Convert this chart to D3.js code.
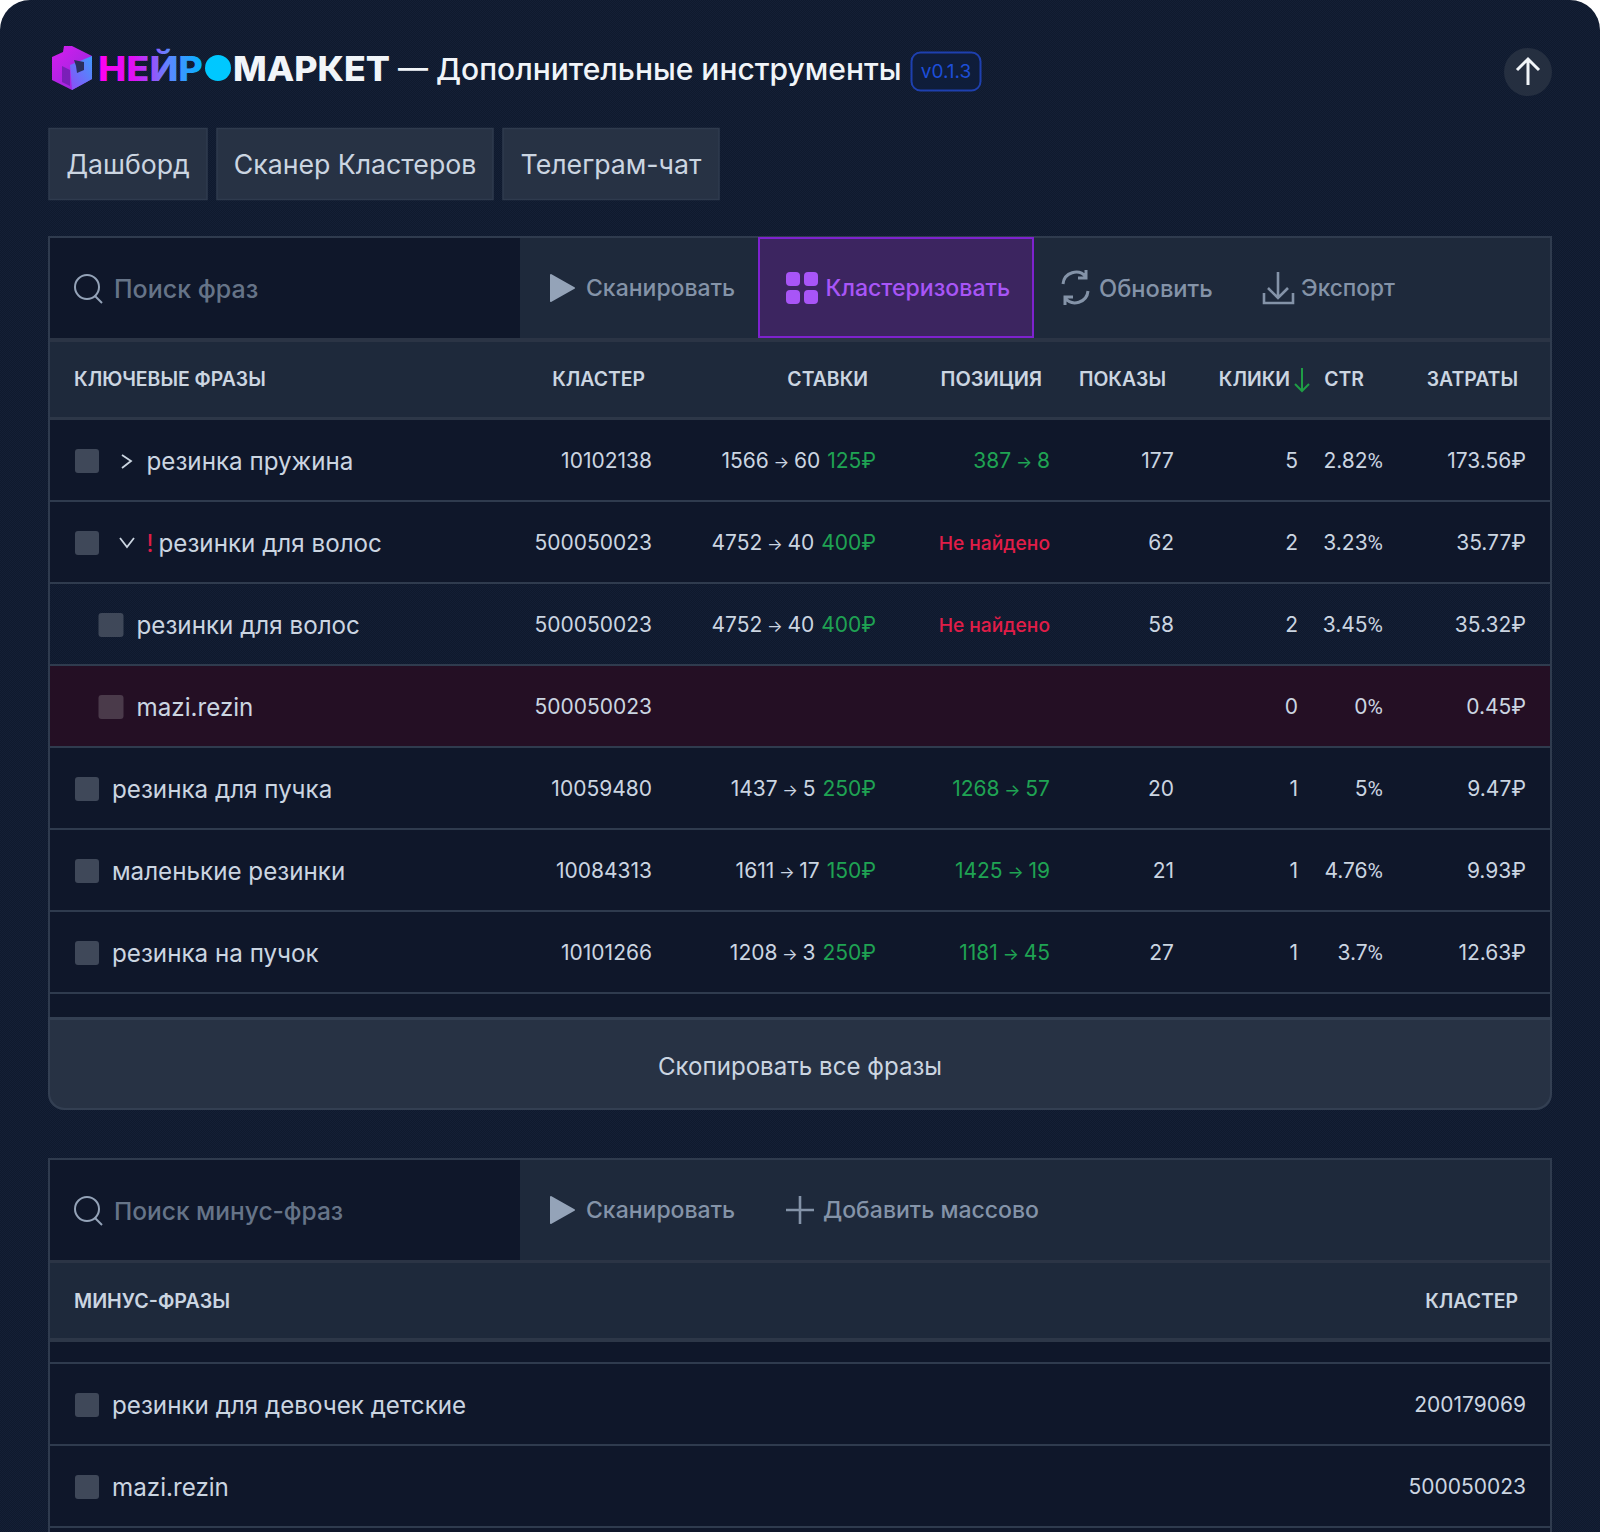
<!DOCTYPE html>
<html>
<head>
<meta charset="utf-8">
<script src="https://cdn.jsdelivr.net/npm/d3@7"></script>
<style>
html, body { margin: 0; padding: 0; background: #fff; overflow: hidden; }
svg { display: block; }
text { font-family: Inter, "Noto Sans", sans-serif; }
</style>
</head>
<body>
<div id="app"></div>
<script>
// table 1
var phrases = ["резинка пружина", "резинки для волос", "резинки для волос", "mazi.rezin", "резинка для пучка", "маленькие резинки", "резинка на пучок"];
var rowKinds = ["collapsed", "expanded", "child", "excluded", "plain", "plain", "plain"];
var clusters = ["10102138", "500050023", "500050023", "500050023", "10059480", "10084313", "10101266"];
var bidFrom = [1566, 4752, 4752, null, 1437, 1611, 1208];
var bidTo = [60, 40, 40, null, 5, 17, 3];
var bidPrice = [125, 400, 400, null, 250, 150, 250];
var posFrom = [387, null, null, null, 1268, 1425, 1181];
var posTo = [8, null, null, null, 57, 19, 45];
var posNotFound = [false, true, true, false, false, false, false];
var shows = [177, 62, 58, null, 20, 21, 27];
var clicks = [5, 2, 2, 0, 1, 1, 1];
var ctr = [2.82, 3.23, 3.45, 0, 5, 4.76, 3.7];
var costs = ["173.56₽", "35.77₽", "35.32₽", "0.45₽", "9.47₽", "9.93₽", "12.63₽"];

// table 2
var minusPhrases = ["резинки для девочек детские", "mazi.rezin"];
var minusClusters = ["200179069", "500050023"];

// header + buttons
var tabs = ["Дашборд", "Сканер Кластеров", "Телеграм-чат"];
var columnKeys = ["cluster", "bids", "position", "shows", "clicks", "ctr", "cost"];
var columnTitles = ["КЛАСТЕР", "СТАВКИ", "ПОЗИЦИЯ", "ПОКАЗЫ", "КЛИКИ", "CTR", "ЗАТРАТЫ"];

var width = 1600, height = 1532;
var TEXT = "#cbd5e1", GREEN = "#1fa353", RED = "#e11d48", MUTED = "#8493a8", LINE = "#2f3b4e";
var DARK = "#0f172a", PANEL = "#1e293b";

// right edges of the values and of the titles
var valueX = d3.scaleOrdinal(columnKeys, [652, 876, 1050, 1174, 1298, 1383, 1526]);
var titleX = d3.scaleOrdinal(columnKeys, [645, 868, 1042, 1166, 1290, 1364, 1518]);
var rowY = d3.scaleBand().domain(d3.range(phrases.length)).range([420, 994]);
var minusY = d3.scaleBand().domain(d3.range(minusPhrases.length)).range([1364, 1528]);

var svg = d3.select("#app").append("svg").attr("width", width).attr("height", height);
var defs = svg.append("defs");

function ditherPattern(id, a, b){
   var p = defs.append("pattern").attr("id", id).attr("width", 2).attr("height", 2).attr("patternUnits", "userSpaceOnUse");
   p.append("rect").attr("width", 2).attr("height", 2).attr("fill", a);
   p.append("rect").attr("width", 1).attr("height", 1).attr("fill", b);
   p.append("rect").attr("x", 1).attr("y", 1).attr("width", 1).attr("height", 1).attr("fill", b);
}
ditherPattern("bgDither", "#0f1a2d", "#141f36");
ditherPattern("childDither", "#0f192c", "#131e35");

function gradient(id, stops, x1, y1, x2, y2){
   var g = defs.append("linearGradient").attr("id", id)
      .attr("x1", x1).attr("y1", y1).attr("x2", x2).attr("y2", y2);
   stops.forEach(function(s, i){
      g.append("stop").attr("offset", i / (stops.length - 1)).attr("stop-color", s);
   });
}
gradient("logoText", ["#ff00f0", "#e010f5", "#5f86ff", "#00b4ff"], 0, 0, 1, 0);
gradient("cubeLeft", ["#d81cf0", "#8b2bd8"], 0, 0, 1, 1);
gradient("cubeRight", ["#8e4cf5", "#3f9bff"], 0, 1, 1, 0);

function rect(x, y, w, h, fill, rx){
   return svg.append("rect").attr("x", x).attr("y", y).attr("width", w).attr("height", h)
      .attr("fill", fill).attr("rx", rx || 0);
}
function label(x, y, txt, size, color, weight, anchor){
   return svg.append("text").attr("x", x).attr("y", y + size * 0.36)
      .attr("font-size", size).attr("fill", color)
      .attr("font-weight", weight || 400)
      .attr("text-anchor", anchor || "start")
      .text(txt);
}

// page
rect(0, 0, width, height + 60, "url(#bgDither)", 30);

// logo
var cube = svg.append("g");
cube.append("path").attr("d", "M52 57 L63 52 L64 46 L72 46 L92 56 L92 79 L72 90 L52 80 Z").attr("fill", "url(#cubeLeft)");
cube.append("path").attr("d", "M70 65 L92 56 L92 79 L72 90 Z").attr("fill", "url(#cubeRight)");
cube.append("path").attr("d", "M74 60 L84 62 L84 70 L77 73 L76 66 Z").attr("fill", "#2a2f5e");
cube.append("path").attr("d", "M62 66 L70 70 L70 86 L62 82 Z").attr("fill", "#7a1fb8");
svg.append("text").attr("x", 98).attr("y", 81).attr("font-size", 34).attr("font-weight", 800)
   .attr("fill", "url(#logoText)").attr("textLength", 105).attr("lengthAdjust", "spacingAndGlyphs").text("НЕЙР");
svg.append("circle").attr("cx", 218).attr("cy", 68).attr("r", 13).attr("fill", "#00c8ff");
svg.append("text").attr("x", 233).attr("y", 81).attr("font-size", 34).attr("font-weight", 800)
   .attr("fill", "#f1f5f9").attr("textLength", 157).attr("lengthAdjust", "spacingAndGlyphs").text("МАРКЕТ");

// title
label(398, 69, "— Дополнительные инструменты", 30, "#f1f5f9", 500);

// version
svg.append("rect").attr("x", 911.5).attr("y", 52.5).attr("width", 69).attr("height", 38).attr("rx", 9)
   .attr("fill", "#0f1d3a").attr("stroke", "#1e40af").attr("stroke-width", 2);
label(946, 71, "v0.1.3", 19, "#1d4ed8", 400, "middle");

// up button
svg.append("circle").attr("cx", 1528).attr("cy", 72).attr("r", 24).attr("fill", "#252f40");
svg.append("path").attr("d", "M1528 85 V59 M1517 70 L1528 59 L1539 70")
   .attr("fill", "none").attr("stroke", "#f1f5f9").attr("stroke-width", 3);

// tabs
var tabBox = [[48.5, 159], [216.5, 277], [502.5, 217]];
tabs.forEach(function(t, i){
   svg.append("rect").attr("x", tabBox[i][0] + 0.5).attr("y", 128.5).attr("width", tabBox[i][1] - 1).attr("height", 71)
      .attr("fill", "#273244").attr("stroke", "#2f3b4e").attr("stroke-width", 1.5);
   label(tabBox[i][0] + tabBox[i][1] / 2, 164, t, 26.7, TEXT, 400, "middle");
});

function searchIcon(y){
   svg.append("circle").attr("cx", 87).attr("cy", y).attr("r", 12)
      .attr("fill", "none").attr("stroke", "#94a3b8").attr("stroke-width", 2);
   svg.append("line").attr("x1", 95).attr("y1", y + 9).attr("x2", 102).attr("y2", y + 16)
      .attr("stroke", "#94a3b8").attr("stroke-width", 2);
}
function playIcon(y){
   svg.append("path").attr("d", "M551 " + (y - 13) + " L574 " + y + " L551 " + (y + 13) + " Z")
      .attr("fill", "#94a3b8").attr("stroke", "#94a3b8").attr("stroke-width", 2).attr("stroke-linejoin", "round");
}

// panel 1: toolbar
rect(48, 236, 1504, 790, LINE);
rect(50, 238, 1500, 100, PANEL);
rect(50, 238, 470, 100, DARK);
searchIcon(287);
label(114, 289, "Поиск фраз", 25, "#667488", 500);
playIcon(288);
label(586, 288, "Сканировать", 23, MUTED, 500);
svg.append("rect").attr("x", 759).attr("y", 238).attr("width", 274).attr("height", 99)
   .attr("fill", "#3c2560").attr("stroke", "#7e22ce").attr("stroke-width", 2);
[[786, 272], [804, 272], [786, 290], [804, 290]].forEach(function(p){
   rect(p[0], p[1], 14, 14, "#a855f7", 4);
});
label(825.5, 288, "Кластеризовать", 23.1, "#a855f7", 500);

// refresh icon
svg.append("path")
   .attr("d", "M1063 284 a13 13 0 0 1 23 -7 M1088 291 a13 13 0 0 1 -23 7 M1086 270 v8 h-8 M1065 305 v-8 h8")
   .attr("fill", "none").attr("stroke", MUTED).attr("stroke-width", 3);
label(1099, 288, "Обновить", 23.7, MUTED, 500);

// download icon
svg.append("path").attr("d", "M1278 272 V297 M1268 288 L1278 298 L1288 288 M1264 293 V303 H1293 V293")
   .attr("fill", "none").attr("stroke", MUTED).attr("stroke-width", 2.6);
label(1301, 288, "Экспорт", 22.7, MUTED, 500);

// panel 1: header
rect(50, 338, 1500, 4, "#2b3445");
rect(50, 342, 1500, 75, PANEL);
rect(50, 417, 1500, 3, "#2d3748");
label(74, 379, "КЛЮЧЕВЫЕ ФРАЗЫ", 19.4, TEXT, 600);
columnKeys.forEach(function(k, i){
   label(titleX(k), 379, columnTitles[i], k == "position" ? 20 : 19.4, TEXT, 600, "end");
});
svg.append("path").attr("d", "M1302 368 V391 M1295 384 L1302 391 L1309 384")
   .attr("fill", "none").attr("stroke", "#1f9d45").attr("stroke-width", 2);

// panel 1: rows
rect(50, 420, 1500, 597, DARK);

var rows = svg.append("g").selectAll("g")
   .data(phrases)
   .enter().append("g")
   .attr("transform", function(d, i){ return "translate(0," + rowY(i) + ")"; });

rows.append("rect").attr("x", 50).attr("width", 1500).attr("height", rowY.bandwidth() - 2)
   .attr("fill", function(d, i){
      if (rowKinds[i] == "child") return "url(#childDither)";
      if (rowKinds[i] == "excluded") return "#240f24";
      return DARK;
   });
rows.append("rect").attr("x", 50).attr("y", rowY.bandwidth() - 2).attr("width", 1500).attr("height", 2)
   .attr("fill", LINE);

rows.append("rect")
   .attr("x", function(d, i){ return (rowKinds[i] == "child" || rowKinds[i] == "excluded") ? 98.5 : 75; })
   .attr("y", 29).attr("width", function(d, i){ return (rowKinds[i] == "child" || rowKinds[i] == "excluded") ? 25 : 24; })
   .attr("height", 24).attr("rx", 3)
   .attr("fill", function(d, i){ return rowKinds[i] == "excluded" ? "#4a3a4a" : "#3f4859"; });

var labelX = { collapsed: 146.5, expanded: 158.5, child: 136.5, excluded: 136.5, plain: 112 };
var CY = 41;
rows.append("text")
   .attr("x", function(d, i){ return labelX[rowKinds[i]]; })
   .attr("y", CY + 9)
   .attr("font-size", 24.2).attr("fill", TEXT)
   .text(function(d){ return d; });

rows.filter(function(d, i){ return rowKinds[i] == "collapsed"; }).append("path")
   .attr("d", "M122 35 L131 41 L122 48").attr("fill", "none").attr("stroke", TEXT).attr("stroke-width", 1.8);
rows.filter(function(d, i){ return rowKinds[i] == "expanded"; }).append("path")
   .attr("d", "M120 36 L127 45 L134 36").attr("fill", "none").attr("stroke", TEXT).attr("stroke-width", 1.8);
rows.filter(function(d, i){ return rowKinds[i] == "expanded"; }).append("text")
   .attr("x", 150).attr("y", CY + 9).attr("font-size", 24).attr("fill", RED).attr("text-anchor", "middle").text("!");

var VALUE_Y = CY + 6.7;
function cell(key, fn, color){
   return rows.append("text")
      .attr("x", valueX(key)).attr("y", VALUE_Y)
      .attr("font-size", 21).attr("text-anchor", "end").attr("fill", color || TEXT)
      .text(fn);
}
// "a → b" with the small arrow of the original
function arrowText(t, a, b, arrowSize){
   t.append("tspan").text(a);
   t.append("tspan").attr("font-size", arrowSize).text(" → ");
   t.append("tspan").text(b);
}

cell("cluster", function(d, i){ return clusters[i]; });

rows.each(function(d, i){
   var g = d3.select(this);
   if (bidFrom[i] != null) {
      var t = g.append("text").attr("x", valueX("bids")).attr("y", VALUE_Y).attr("font-size", 21)
         .attr("text-anchor", "end").attr("fill", TEXT);
      arrowText(t, bidFrom[i], bidTo[i], 16.5);
      t.append("tspan").attr("dx", 7).attr("fill", GREEN).text(bidPrice[i] + "₽");
   }
   if (posNotFound[i]) {
      g.append("text").attr("x", valueX("position")).attr("y", VALUE_Y).attr("font-size", 19.2)
         .attr("font-weight", 500).attr("text-anchor", "end").attr("fill", RED).text("Не найдено");
   } else if (posFrom[i] != null) {
      var p = g.append("text").attr("x", valueX("position")).attr("y", VALUE_Y).attr("font-size", 21)
         .attr("text-anchor", "end").attr("fill", GREEN);
      arrowText(p, posFrom[i], posTo[i], 17);
   }
});

cell("shows", function(d, i){ return shows[i] == null ? "" : shows[i]; });
cell("clicks", function(d, i){ return clicks[i]; });
cell("ctr", function(d, i){ return ""; }).each(function(d, i){
   var t = d3.select(this);
   t.append("tspan").text(ctr[i]);
   // Inter's percent sign is wider than the one in the picture
   t.append("tspan").style("font-family", "Roboto").text("%");
});
cell("cost", function(d, i){ return costs[i]; });

// copy button
svg.append("path").attr("d", "M48 1017 H1552 V1094 a16 16 0 0 1 -16 16 H64 a16 16 0 0 1 -16 -16 Z").attr("fill", "#333f52");
svg.append("path").attr("d", "M50 1020 H1550 V1093 a15 15 0 0 1 -15 15 H65 a15 15 0 0 1 -15 -15 Z").attr("fill", "#273244");
label(800, 1066, "Скопировать все фразы", 24.1, TEXT, 400, "middle");

// panel 2: toolbar
rect(48, 1158, 1504, 400, LINE);
rect(50, 1160, 1500, 100, PANEL);
rect(50, 1160, 470, 100, DARK);
searchIcon(1209);
label(114, 1211, "Поиск минус-фраз", 24.5, "#667488", 500);
playIcon(1210);
label(586, 1210, "Сканировать", 23, MUTED, 500);
svg.append("path").attr("d", "M800 1196 V1224 M786 1210 H814").attr("fill", "none").attr("stroke", MUTED).attr("stroke-width", 2.6);
label(823, 1210, "Добавить массово", 23, MUTED, 500);

// panel 2: header
rect(50, 1260, 1500, 3, "#2b3445");
rect(50, 1263, 1500, 75, PANEL);
rect(50, 1338, 1500, 4, "#2d3748");
label(74, 1301, "МИНУС-ФРАЗЫ", 19.7, TEXT, 600);
label(titleX("cost"), 1301, "КЛАСТЕР", 19.4, TEXT, 600, "end");

// panel 2: rows
rect(50, 1342, 1500, 200, DARK);
rect(50, 1362, 1500, 2, LINE);

var minusRows = svg.append("g").selectAll("g")
   .data(minusPhrases)
   .enter().append("g")
   .attr("transform", function(d, i){ return "translate(0," + minusY(i) + ")"; });
minusRows.append("rect").attr("x", 50).attr("y", minusY.bandwidth() - 2).attr("width", 1500).attr("height", 2).attr("fill", LINE);
minusRows.append("rect").attr("x", 75).attr("y", 29).attr("width", 24).attr("height", 24).attr("rx", 3).attr("fill", "#3f4859");
minusRows.append("text").attr("x", 112).attr("y", 50).attr("font-size", 24.2).attr("fill", TEXT).text(function(d){ return d; });
minusRows.append("text").attr("x", valueX("cost")).attr("y", 48).attr("font-size", 21).attr("text-anchor", "end")
   .attr("fill", TEXT).text(function(d, i){ return minusClusters[i]; });
</script>
</body>
</html>
